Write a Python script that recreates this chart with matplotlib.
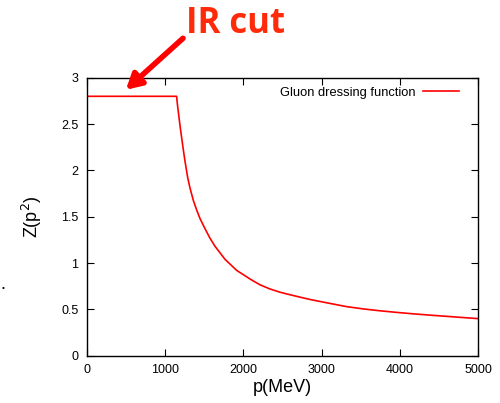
import matplotlib
matplotlib.use('Agg')
import matplotlib.pyplot as plt

# values
p_mev = [0, 1148, 1160, 1192, 1234, 1255, 1290, 1319, 1360, 1405, 1447,
         1511, 1573, 1639, 1766, 1916, 1990, 2100, 2213, 2340, 2469, 2600,
         2724, 2850, 2980, 3150, 3316, 3530, 3741, 3950, 4166, 4380, 4592,
         4800, 5000]
z_val = [2.80, 2.80, 2.70, 2.48, 2.22, 2.10, 1.92, 1.81, 1.68, 1.57, 1.48,
         1.37, 1.27, 1.18, 1.04, 0.92, 0.88, 0.82, 0.765, 0.72, 0.685, 0.657,
         0.632, 0.607, 0.585, 0.557, 0.53, 0.505, 0.485, 0.468, 0.452, 0.438,
         0.425, 0.412, 0.40]
x_ticks = [0, 1000, 2000, 3000, 4000, 5000]
y_ticks = [0, 0.5, 1, 1.5, 2, 2.5, 3]
y_tick_labels = ['0', '0.5', '1', '1.5', '2', '2.5', '3']

plt.rcParams['font.family'] = ['Liberation Sans', 'DejaVu Sans']

fig = plt.figure(figsize=(5.0, 4.03), dpi=100)
ax = fig.add_axes([0.1734, 0.1174, 0.7832, 0.6896])

ax.plot(p_mev, z_val, color='#ff0000', lw=1.2, label='Gluon dressing function')
ax.set_xlim(0, 5000)
ax.set_ylim(0, 3)
ax.set_xticks(x_ticks)
ax.set_yticks(y_ticks)
ax.set_yticklabels(y_tick_labels)
ax.tick_params(direction='in', length=5, width=0.8, top=True, right=True,
               labelsize=9, pad=6)
for s in ax.spines.values():
    s.set_linewidth(1.0)

ax.set_xlabel('p(MeV)', fontsize=13, labelpad=2)
ax.set_ylabel(r'Z(p$^2$)', fontsize=13, labelpad=12)

ax.legend(loc='upper right', frameon=False, markerfirst=False, fontsize=9.3,
          handlelength=2.8, handletextpad=0.6, borderaxespad=0.3,
          bbox_to_anchor=(0.975, 1.0))

# slide annotation
fig.text(0.372, 0.985, 'IR cut', color='#ff2a0a', fontsize=25,
         fontweight='bold', family=['Open Sans', 'DejaVu Sans'], va='top', ha='left')
ax.annotate('', xy=(500, 2.87), xycoords='data',
            xytext=(0.366, 0.905), textcoords='figure fraction',
            arrowprops=dict(arrowstyle='-|>,head_length=0.9,head_width=0.5',
                            color='#ff0000', lw=4, shrinkA=0, shrinkB=0),
            annotation_clip=False)
fig.text(0.004, 0.28, '•', fontsize=6, color='black')

fig.savefig('out.png', dpi=100)
